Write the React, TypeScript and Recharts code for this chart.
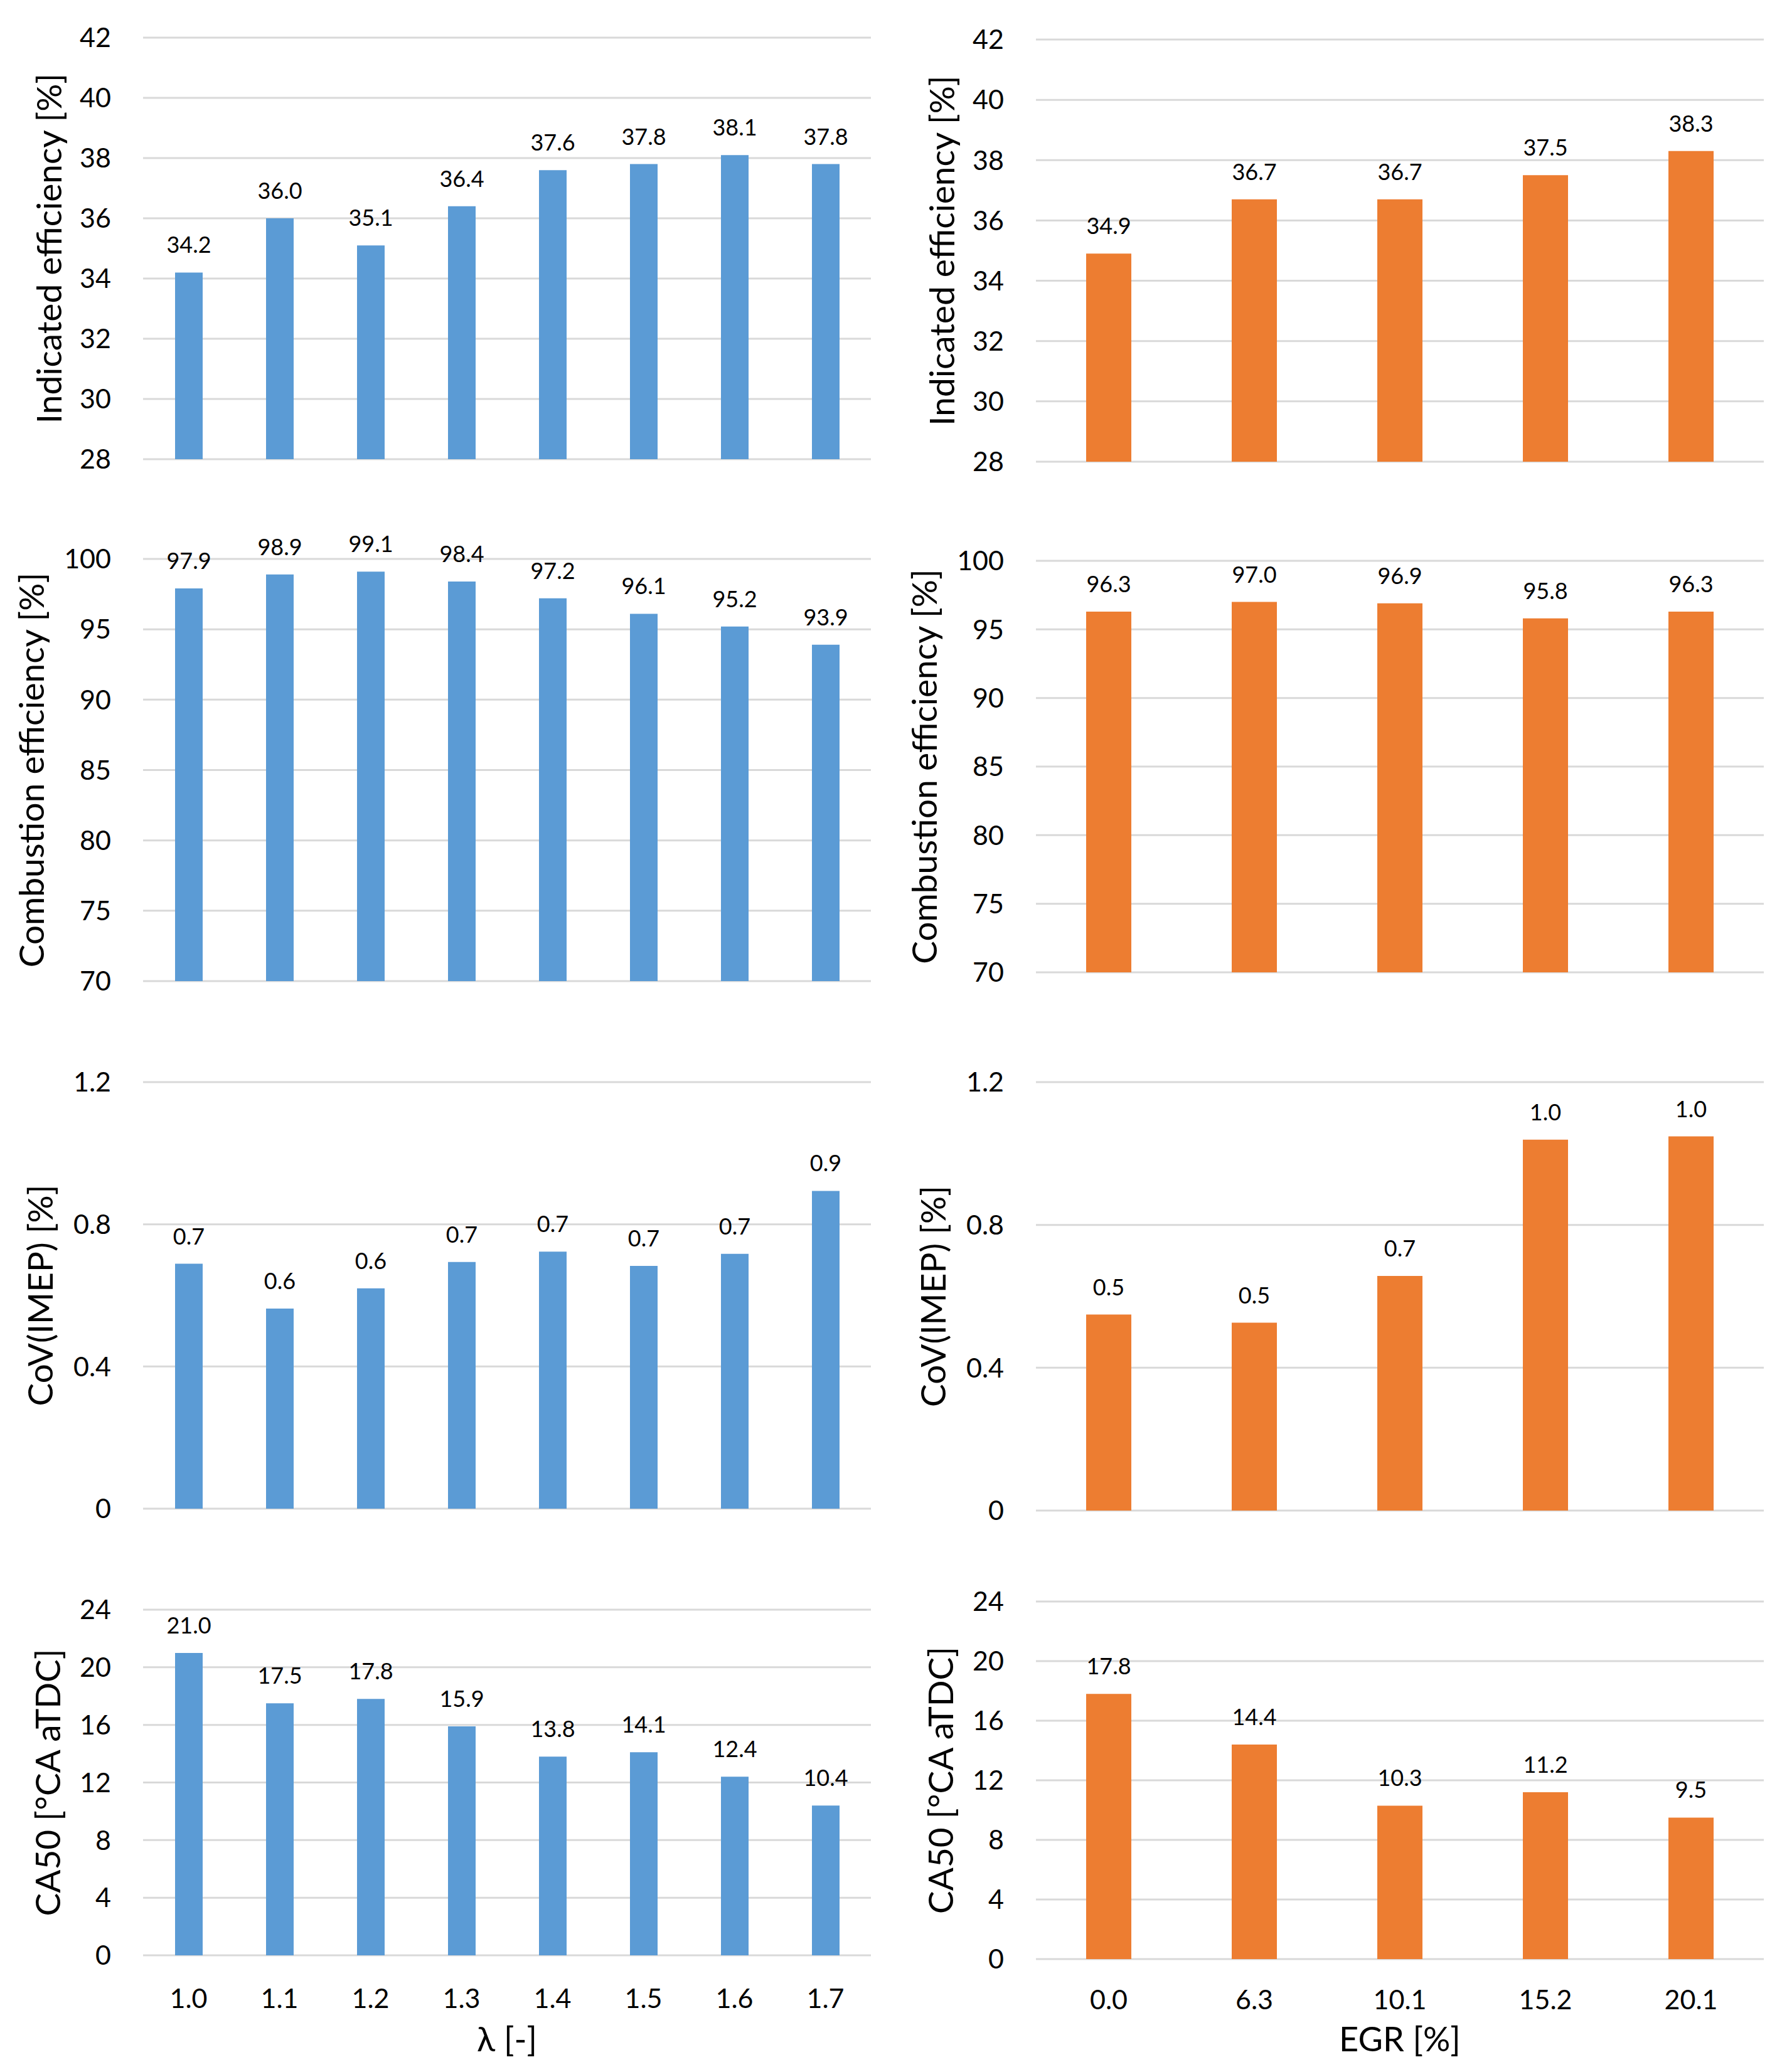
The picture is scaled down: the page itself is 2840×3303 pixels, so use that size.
import React from 'react';
import { BarChart, Bar, XAxis, YAxis, CartesianGrid, LabelList } from 'recharts';

// ---------- data ----------
const lambdaCats = ['1.0', '1.1', '1.2', '1.3', '1.4', '1.5', '1.6', '1.7'];
const lambdaIndEff = [34.2, 36.0, 35.1, 36.4, 37.6, 37.8, 38.1, 37.8];
const lambdaCombEff = [97.9, 98.9, 99.1, 98.4, 97.2, 96.1, 95.2, 93.9];
const lambdaCoV = [0.689, 0.563, 0.62, 0.694, 0.723, 0.683, 0.717, 0.894];
const lambdaCA50 = [21.0, 17.5, 17.8, 15.9, 13.8, 14.1, 12.4, 10.4];

const egrCats = ['0.0', '6.3', '10.1', '15.2', '20.1'];
const egrIndEff = [34.9, 36.7, 36.7, 37.5, 38.3];
const egrCombEff = [96.3, 97.0, 96.9, 95.8, 96.3];
const egrCoV = [0.549, 0.526, 0.657, 1.039, 1.048];
const egrCA50 = [17.8, 14.4, 10.3, 11.2, 9.5];

const indEffTicks = [28, 30, 32, 34, 36, 38, 40, 42];
const combEffTicks = [70, 75, 80, 85, 90, 95, 100];
const covTicks = [0, 0.4, 0.8, 1.2];
const ca50Ticks = [0, 4, 8, 12, 16, 20, 24];

const yTitles = ['Indicated efficiency [%]', 'Combustion efficiency [%]', 'CoV(IMEP) [%]', 'CA50 [°CA aTDC]'];
const xTitleLambda = 'λ [-]';
const xTitleEgr = 'EGR [%]';

const BLUE = '#5B9BD5';
const ORANGE = '#ED7D31';

// ---------- style / layout ----------
const FONT = 'Lato, "Liberation Sans", sans-serif';
const TEXT = '#000000';
const GRID = '#D9D9D9';
const CHART_W = 1420;
const AXIS_W = 228;
const MR = 32;
const MT = 60;
const MB = 40;
const XH = 90;
const COL_SHIFT = 1423;

const build = (cats: string[], vals: number[]) => cats.map((c, i) => ({ cat: c, v: vals[i] }));

type PanelProps = {
  data: { cat: string; v: number }[];
  color: string;
  ticks: number[];
  barSize: number;
  left: number;
  plotTop: number;
  plotH: number;
  showX: boolean;
  xTickMargin?: number;
};

function Panel({ data, color, ticks, barSize, left, plotTop, plotH, showX, xTickMargin = 50 }: PanelProps) {
  const h = MT + plotH + (showX ? XH : 0) + MB;
  return (
    <div style={{ position: 'absolute', left, top: plotTop - MT }}>
      <BarChart width={CHART_W} height={h} data={data} margin={{ top: MT, right: MR, bottom: MB, left: 0 }} style={{ overflow: 'visible' }}>
        <CartesianGrid vertical={false} stroke={GRID} strokeWidth={3} />
        <XAxis
          dataKey="cat"
          hide={!showX}
          axisLine={false}
          tickLine={false}
          tickSize={0}
          tickMargin={xTickMargin}
          interval={0}
          height={XH}
          tick={{ fontFamily: FONT, fontSize: 43, fill: TEXT }}
        />
        <YAxis
          type="number"
          width={AXIS_W}
          domain={[ticks[0], ticks[ticks.length - 1]]}
          ticks={ticks}
          interval={0}
          axisLine={false}
          tickLine={false}
          tickSize={0}
          tickMargin={51}
          allowDataOverflow
          tick={{ fontFamily: FONT, fontSize: 43, fill: TEXT }}
        />
        <Bar dataKey="v" fill={color} barSize={barSize} isAnimationActive={false}>
          <LabelList
            dataKey="v"
            position="top"
            offset={31}
            formatter={(v: any) => Number(v).toFixed(1)}
            fontFamily={FONT}
            fontSize={36}
            fill={TEXT}
          />
        </Bar>
      </BarChart>
    </div>
  );
}

// plot area vertical extents [top, height] per row, per column
const leftRows = [
  [60, 672],
  [891, 673],
  [1725, 680],
  [2566, 551],
];
const rightRows = [
  [63, 673],
  [894, 656],
  [1725, 683],
  [2553, 570],
];
const titleBaseX = [98, 70, 84, 96];

export default function App() {
  const leftData = [
    build(lambdaCats, lambdaIndEff),
    build(lambdaCats, lambdaCombEff),
    build(lambdaCats, lambdaCoV),
    build(lambdaCats, lambdaCA50),
  ];
  const rightData = [
    build(egrCats, egrIndEff),
    build(egrCats, egrCombEff),
    build(egrCats, egrCoV),
    build(egrCats, egrCA50),
  ];
  const tickSets = [indEffTicks, combEffTicks, covTicks, ca50Ticks];

  return (
    <div style={{ position: 'absolute', left: 0, top: 0, width: 2840, height: 3303, background: '#fff', overflow: 'hidden' }}>
      {leftRows.map((r, i) => (
        <Panel
          key={'l' + i}
          data={leftData[i]}
          color={BLUE}
          ticks={tickSets[i]}
          barSize={44}
          left={0}
          plotTop={r[0]}
          plotH={r[1]}
          showX={i === 3}
          xTickMargin={53}
        />
      ))}
      {rightRows.map((r, i) => (
        <Panel
          key={'r' + i}
          data={rightData[i]}
          color={ORANGE}
          ticks={tickSets[i]}
          barSize={72}
          left={COL_SHIFT}
          plotTop={r[0]}
          plotH={r[1]}
          showX={i === 3}
          xTickMargin={49}
        />
      ))}
      <svg width={2840} height={3303} style={{ position: 'absolute', left: 0, top: 0, pointerEvents: 'none' }}>
        {leftRows.map((r, i) => {
          const cy = r[0] + r[1] / 2;
          const x = titleBaseX[i];
          return (
            <text key={'tl' + i} x={x} y={cy} transform={`rotate(-90 ${x} ${cy})`} textAnchor="middle" fontFamily={FONT} fontSize={55} fill={TEXT}>
              {yTitles[i]}
            </text>
          );
        })}
        {rightRows.map((r, i) => {
          const cy = r[0] + r[1] / 2;
          const x = titleBaseX[i] + COL_SHIFT;
          return (
            <text key={'tr' + i} x={x} y={cy} transform={`rotate(-90 ${x} ${cy})`} textAnchor="middle" fontFamily={FONT} fontSize={55} fill={TEXT}>
              {yTitles[i]}
            </text>
          );
        })}
        <text x={808} y={3270} textAnchor="middle" fontFamily={FONT} fontSize={54} fill={TEXT}>
          {xTitleLambda}
        </text>
        <text x={2231} y={3270} textAnchor="middle" fontFamily={FONT} fontSize={54} fill={TEXT}>
          {xTitleEgr}
        </text>
      </svg>
    </div>
  );
}
